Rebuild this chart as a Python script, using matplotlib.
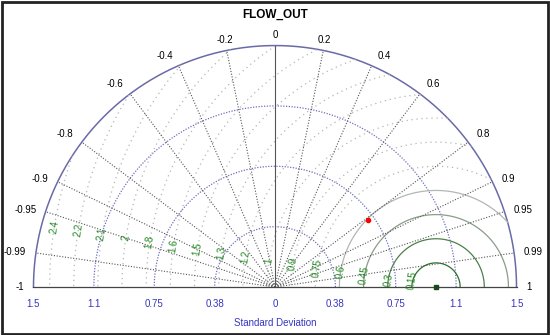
import numpy as np
import matplotlib.pyplot as plt

# Taylor diagram data
title = "FLOW_OUT"
ref_sd = 1.0
model_sd = 0.71
model_corr = 0.81
corr_ticks = [-1, -0.99, -0.95, -0.9, -0.8, -0.6, -0.4, -0.2, 0,
              0.2, 0.4, 0.6, 0.8, 0.9, 0.95, 0.99, 1]
corr_labels = ["-1", "-0.99", "-0.95", "-0.9", "-0.8", "-0.6", "-0.4", "-0.2", "0",
               "0.2", "0.4", "0.6", "0.8", "0.9", "0.95", "0.99", "1"]
sd_ticks = [0.375, 0.75, 1.125, 1.5]
sd_labels = ["0.38", "0.75", "1.1", "1.5"]
rms_values = [0.15, 0.3, 0.45, 0.6, 0.75, 0.9, 1.05, 1.2, 1.35, 1.5,
              1.65, 1.8, 1.95, 2.1, 2.25, 2.4]
rms_labels = ["0.15", "0.3", "0.45", "0.6", "0.75", "0.9", "1", "1.2", "1.3", "1.5",
              "1.6", "1.8", "2", "2.1", "2.2", "2.4"]

plt.rcParams['font.family'] = ['Liberation Sans', 'DejaVu Sans']

fig = plt.figure(figsize=(5.5, 3.35), dpi=100)
ax = fig.add_axes([0, 0, 1, 1])
ax.set_xlim(-1.708, 1.708)
ax.set_ylim(-0.298, 1.783)
ax.axis('off')

R = sd_ticks[-1]
t = np.linspace(0, np.pi, 400)

# frame
fig.patches.append(plt.Rectangle((0.003, 0.004), 0.994, 0.99, transform=fig.transFigure,
                                 fill=False, edgecolor='#222222', linewidth=2))

# std dev arcs
for s in sd_ticks[:-1]:
    ax.plot(s * np.cos(t), s * np.sin(t), ls=(0, (1, 1.2)), color='#7070c0', lw=0.9)
ax.plot(R * np.cos(t), R * np.sin(t), color='#6a6aa8', lw=1.1)

# rms circles around reference
phi = np.linspace(0, np.pi, 800)
th = np.deg2rad(9)
for i, r in enumerate(rms_values):
    x = ref_sd + r * np.cos(phi)
    y = r * np.sin(phi)
    mask = np.hypot(x, y) > R
    x = np.where(mask, np.nan, x)
    y = np.where(mask, np.nan, y)
    if i == 0:
        ax.plot(x, y, color='#2a702a', lw=0.9)
    elif i == 1:
        ax.plot(x, y, color='#4d804d', lw=0.9)
    elif i == 2:
        ax.plot(x, y, color='#8a9c8a', lw=0.9)
    elif i == 3:
        ax.plot(x, y, color='#b0b8b0', lw=0.9)
    else:
        ax.plot(x, y, ls=(0, (1, 3)), color='#b5b5b5', lw=0.9)
    lx = ref_sd - r * np.cos(th)
    ly = max(r * np.sin(th), 0.045)
    ax.text(lx, ly, rms_labels[i], color='#228822', fontsize=7, rotation=90 - 9,
            ha='center', va='center', rotation_mode='anchor')

# correlation lines
for c, lab in zip(corr_ticks, corr_labels):
    a = np.arccos(c)
    if abs(c) < 1:
        ls = '-' if c == 0 else (0, (1, 1.5))
        ax.plot([0, R * np.cos(a)], [0, R * np.sin(a)], ls=ls, color='#555555', lw=0.8)
    ca, sa = np.cos(a), np.sin(a)
    if ca > 0.3:
        ha = 'left'
    elif ca < -0.3:
        ha = 'right'
    else:
        ha = 'center'
    va = 'bottom' if sa > 0.5 else 'center'
    dx = 5 * ca + (2 if ha == 'left' else -2 if ha == 'right' else 0)
    ax.annotate(lab, (R * ca, R * sa), xytext=(dx, 4 * sa),
                textcoords='offset points', ha=ha, va=va, fontsize=7, color='black')

# baseline
ax.plot([-R, R], [0, 0], color='#444444', lw=0.9)

# std dev tick labels
for s, lab in zip(sd_ticks, sd_labels):
    ax.text(s, -0.105, lab, color='#3535c0', fontsize=7, ha='center', va='center')
    ax.text(-s, -0.105, lab, color='#3535c0', fontsize=7, ha='center', va='center')
ax.text(0, -0.105, "0", color='#3535c0', fontsize=7, ha='center', va='center')
ax.text(0, -0.225, "Standard Deviation", color='#3535c0', fontsize=7, ha='center', va='center')

# points
ax.plot(ref_sd, 0, 's', color='#1a4a1a', ms=3)
ax.plot(model_sd * model_corr, model_sd * np.sin(np.arccos(model_corr)), 'o', color='red', ms=3)

ax.text(0, 1.69, title, fontsize=8.5, fontweight='bold', ha='center', va='center')

fig.savefig("out.png", dpi=100)
